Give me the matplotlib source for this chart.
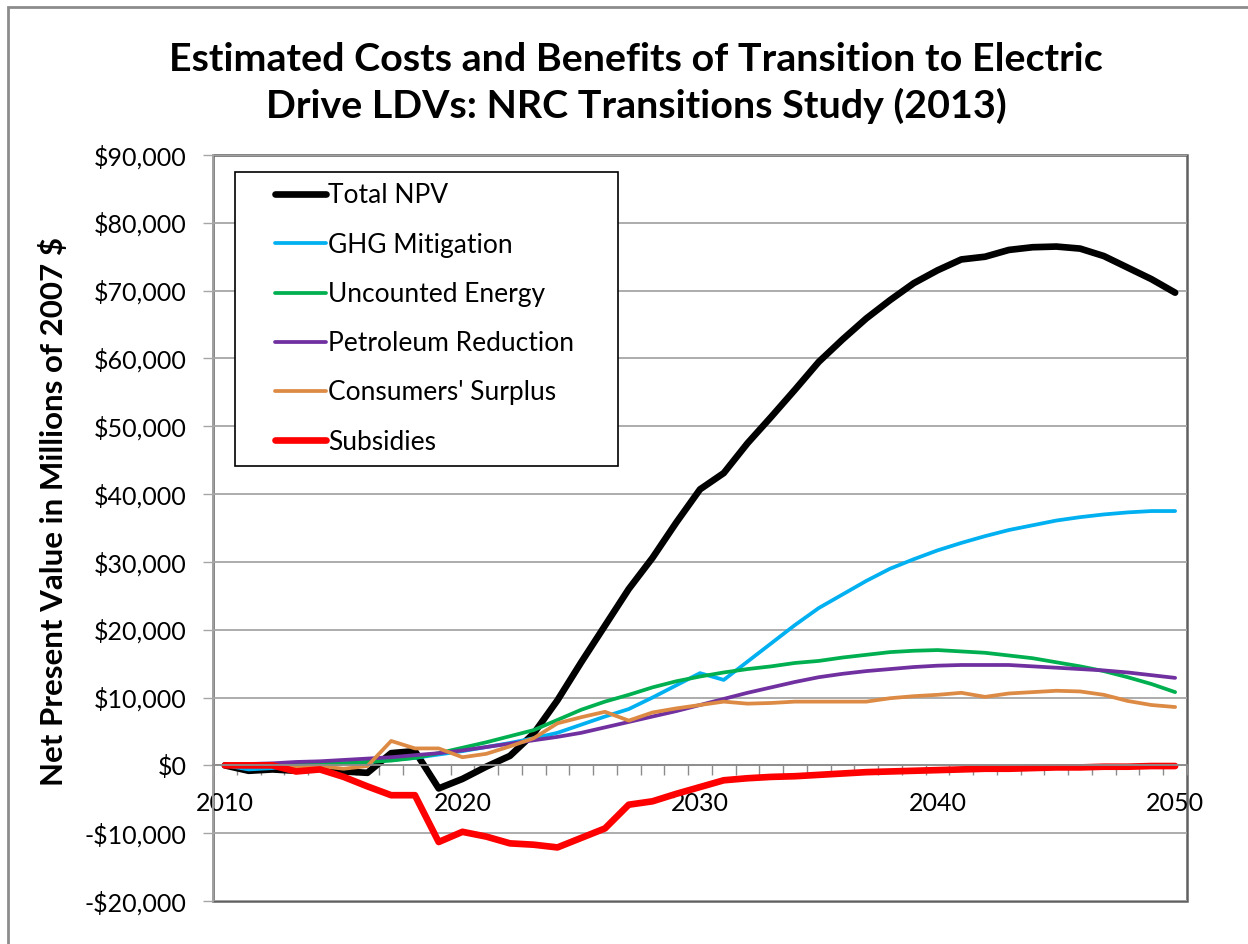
import matplotlib.pyplot as plt
import matplotlib.ticker as mticker
from matplotlib.patches import Rectangle
from matplotlib.legend_handler import HandlerLine2D
import numpy as np

plt.rcParams['font.family'] = ['Lato', 'DejaVu Sans']

years = list(range(2010, 2051))

# values in millions of 2007 $
total_npv = [0, -800, -600, -800, -500, -900, -1100, 1800, 2100, -3400,
             -2000, -200, 1400, 4700, 9600, 15200, 20600, 26000, 30600, 35800,
             40700, 43100, 47500, 51400, 55400, 59500, 62800, 65900, 68600, 71100,
             73000, 74600, 75000, 76000, 76400, 76500, 76200, 75100, 73400, 71700,
             69700]
ghg = [0, -600, -400, -100, 100, 300, 500, 800, 1100, 1600,
       2100, 2700, 3300, 4000, 4800, 6000, 7200, 8300, 10000, 11800,
       13600, 12600, 15300, 18000, 20700, 23200, 25200, 27200, 29000, 30400,
       31700, 32800, 33800, 34700, 35400, 36100, 36600, 37000, 37300, 37500,
       37500]
uncounted = [0, 0, 0, 100, 200, 300, 500, 700, 1100, 1800,
             2600, 3400, 4300, 5200, 6700, 8200, 9400, 10400, 11500, 12400,
             13100, 13700, 14200, 14600, 15100, 15400, 15900, 16300, 16700, 16900,
             17000, 16800, 16600, 16200, 15800, 15200, 14600, 13900, 13000, 12000,
             10800]
petroleum = [0, 200, 300, 500, 600, 800, 1000, 1200, 1500, 1800,
             2200, 2700, 3200, 3700, 4200, 4800, 5600, 6400, 7200, 8000,
             8900, 9800, 10700, 11500, 12300, 13000, 13500, 13900, 14200, 14500,
             14700, 14800, 14800, 14800, 14600, 14400, 14200, 14000, 13700, 13300,
             12900]
surplus = [0, 0, 0, -300, -100, -500, -100, 3600, 2500, 2500,
           1200, 1700, 2800, 4000, 6200, 7100, 7900, 6600, 7800, 8400,
           8900, 9400, 9100, 9200, 9400, 9400, 9400, 9400, 9900, 10200,
           10400, 10700, 10100, 10600, 10800, 11000, 10900, 10400, 9500, 8900,
           8600]
subsidies = [0, 0, 0, -900, -600, -1700, -3100, -4400, -4400, -11300,
             -9800, -10500, -11500, -11700, -12100, -10700, -9300, -5800, -5300, -4200,
             -3200, -2200, -1900, -1700, -1600, -1400, -1200, -1000, -900, -800,
             -700, -600, -500, -500, -400, -300, -300, -200, -200, -100,
             -100]

series = [
    ('Total NPV', total_npv, '#000000', 4.8),
    ('GHG Mitigation', ghg, '#00B0F0', 2.7),
    ('Uncounted Energy', uncounted, '#00B050', 2.7),
    ('Petroleum Reduction', petroleum, '#7030A0', 2.7),
    ("Consumers' Surplus", surplus, '#DC8A44', 2.7),
    ('Subsidies', subsidies, '#FF0000', 4.8),
]

fig = plt.figure(figsize=(12.48, 9.44), dpi=100)
ax = fig.add_axes([213/1248, 43/944, 974/1248, 746/944])

for name, vals, col, lw in series:
    ax.plot(years, vals, color=col, lw=lw, label=name,
            solid_capstyle='round', solid_joinstyle='round')

ax.set_xlim(2009.5, 2050.5)
ax.set_ylim(-20000, 90000)
ax.yaxis.set_major_locator(mticker.MultipleLocator(10000))
ax.yaxis.set_major_formatter(mticker.FuncFormatter(
    lambda v, p: ('-$' if v < 0 else '$') + format(int(abs(v)), ',')))
ax.grid(axis='y', color='#A6A6A6', lw=1.3)
ax.set_axisbelow(True)

# category axis crosses at zero
ax.spines['bottom'].set_position(('data', 0))
ax.spines['bottom'].set_color('#8C8C8C')
ax.spines['bottom'].set_linewidth(1.3)
ax.spines['left'].set_color('#A6A6A6')
ax.spines['left'].set_linewidth(1.3)
ax.spines['top'].set_visible(False)
ax.spines['right'].set_visible(False)
ax.add_patch(Rectangle((0, 0), 1, 1, transform=ax.transAxes, fill=False,
                       edgecolor='#606060', lw=1.8, clip_on=False, zorder=0.5))

ax.xaxis.set_major_locator(mticker.FixedLocator(years[::10]))
ax.xaxis.set_minor_locator(mticker.FixedLocator(np.arange(2009.5, 2051, 1)))
ax.tick_params(axis='x', which='major', length=0, pad=19, labelsize=18)
ax.tick_params(axis='x', which='minor', length=7, width=1, color='#8C8C8C', direction='out')
ax.tick_params(axis='y', length=7, width=1, color='#A6A6A6', pad=12, labelsize=18)

# legend handles start well inside the box, as in the original
hmap = {ln: HandlerLine2D(xpad=1.08) for ln in ax.get_lines()}
leg = ax.legend(loc='upper left', bbox_to_anchor=(0.0226, 0.967, 0.393, 0.01), mode='expand',
                frameon=True, fancybox=False, framealpha=1, edgecolor='#000000',
                fontsize=19, handlelength=3.01, handletextpad=0.1, labelspacing=0.92,
                borderpad=0.42, borderaxespad=0, handler_map=hmap)
leg.get_frame().set_linewidth(1.2)

fig.text(636/1248, 1 - 83/944,
         'Estimated Costs and Benefits of Transition to Electric\nDrive LDVs: NRC Transitions Study (2013)',
         ha='center', va='center', fontsize=28.4, fontweight='bold', linespacing=1.37)
fig.text(54/1248, 1 - 512/944, 'Net Present Value in Millions of 2007 $',
         rotation=90, ha='center', va='center', fontsize=22.5, fontweight='bold')

fig.add_artist(Rectangle((8/1248, -0.1), 1.2, 1.1 - 7/944, transform=fig.transFigure,
                         fill=False, edgecolor='#8C8C8C', lw=2))

fig.savefig('out.png', dpi=100)
